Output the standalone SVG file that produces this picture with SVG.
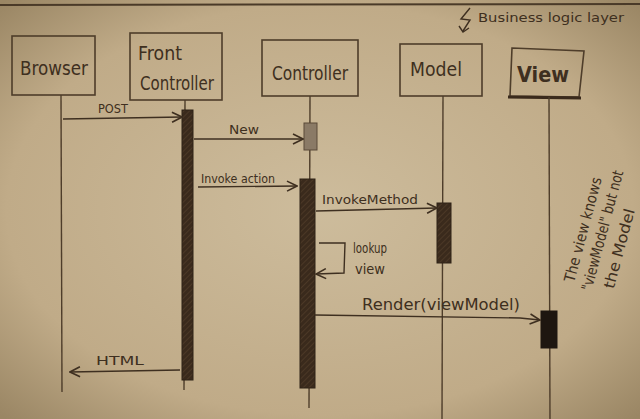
<svg xmlns="http://www.w3.org/2000/svg" width="640" height="419" viewBox="0 0 640 419">
<defs>
<radialGradient id="paper" cx="50%" cy="50%" r="70%">
<stop offset="0" stop-color="#cdbc9c"/>
<stop offset="0.7" stop-color="#c0ab88"/>
<stop offset="1" stop-color="#9a8664"/>
</radialGradient>
<marker id="arr" viewBox="0 0 12 12" refX="11" refY="6" markerWidth="12" markerHeight="12" markerUnits="userSpaceOnUse" orient="auto">
<path d="M1,1 L11,6 L1,11" fill="none" stroke="#3e2f20" stroke-width="1.6"/>
</marker>
<pattern id="hatch" width="4" height="4" patternUnits="userSpaceOnUse" patternTransform="rotate(45)">
<rect width="4" height="4" fill="#3a2a1c"/>
<line x1="0" y1="0" x2="0" y2="4" stroke="#5c4630" stroke-width="1"/>
</pattern>
</defs>
<style>
.box{fill:none;stroke:#4e3d2a;stroke-width:1.6}
.life{stroke:#4e3d2a;stroke-width:1.4;fill:none}
.msg{stroke:#3e2f20;stroke-width:1.4;fill:none;marker-end:url(#arr)}
.bar{fill:url(#hatch);stroke:#2e2216;stroke-width:1}
.lbl{font-family:"DejaVu Sans",sans-serif;fill:#3e2f20}
.big{font-size:19px}
.sm{font-size:12px}
</style>
<rect width="640" height="419" fill="url(#paper)"/>
<line x1="0" y1="5" x2="640" y2="4" stroke="#4a3a28" stroke-width="2"/>

<g id="browser">
<rect class="box" x="12" y="36" width="83" height="59"/>
<text class="lbl big" x="20" y="75" textLength="68" lengthAdjust="spacingAndGlyphs">Browser</text>
<line class="life" x1="61" y1="95" x2="62" y2="392"/>
</g>
<g id="frontcontroller">
<rect class="box" x="130" y="33" width="92" height="67"/>
<text class="lbl big" x="138" y="60" textLength="44" lengthAdjust="spacingAndGlyphs">Front</text>
<text class="lbl big" x="140" y="90" textLength="74" lengthAdjust="spacingAndGlyphs">Controller</text>
<line class="life" x1="185" y1="100" x2="184" y2="390"/>
<rect class="bar" x="182" y="110" width="11" height="270"/>
</g>
<g id="controller">
<rect class="box" x="262" y="40" width="96" height="56"/>
<text class="lbl big" x="272" y="80" textLength="76" lengthAdjust="spacingAndGlyphs">Controller</text>
<line class="life" x1="310" y1="96" x2="309" y2="408"/>
<rect x="304" y="123" width="13" height="27" fill="#8a7a66" stroke="#5a4a38" stroke-width="1"/>
<rect class="bar" x="300" y="179" width="15" height="209"/>
</g>
<g id="model">
<rect class="box" x="400" y="44" width="82" height="52"/>
<text class="lbl big" x="410" y="76" textLength="52" lengthAdjust="spacingAndGlyphs">Model</text>
<line class="life" x1="443" y1="96" x2="442" y2="419"/>
<rect class="bar" x="437" y="203" width="14" height="60"/>
</g>
<g id="view">
<path class="box" d="M512,48 L584,51 L579,97 L510,96 Z"/>
<line x1="508" y1="97" x2="581" y2="98" stroke="#3a2a1c" stroke-width="3"/>
<text class="lbl" x="517" y="82" font-size="22" font-weight="bold" textLength="52" lengthAdjust="spacingAndGlyphs">View</text>
<line class="life" x1="549" y1="97" x2="550" y2="419"/>
<rect x="541" y="311" width="16" height="37" fill="#1e1610" stroke="#1e1610" stroke-width="1"/>
</g>

<g id="connectors">
<line class="msg" x1="63" y1="119" x2="182" y2="117"/>
<text class="lbl sm" x="98" y="113" textLength="30" lengthAdjust="spacingAndGlyphs">POST</text>
<line class="msg" x1="194" y1="139" x2="303" y2="139"/>
<text class="lbl sm" x="229" y="134" textLength="30" lengthAdjust="spacingAndGlyphs">New</text>
<line class="msg" x1="198" y1="187" x2="297" y2="186"/>
<text class="lbl sm" x="201" y="183" textLength="74" lengthAdjust="spacingAndGlyphs">Invoke action</text>
<line class="msg" x1="316" y1="211" x2="437" y2="208"/>
<text class="lbl sm" x="322" y="204" textLength="96" lengthAdjust="spacingAndGlyphs">InvokeMethod</text>
<path class="msg" d="M319,243 L345,243 L344,273 L316,274"/>
<text class="lbl" font-size="14" x="353" y="253" textLength="34" lengthAdjust="spacingAndGlyphs">lookup</text>
<text class="lbl" font-size="14" x="355" y="274" textLength="30" lengthAdjust="spacingAndGlyphs">view</text>
<path class="msg" d="M315,315 L520,318 L540,320"/>
<text class="lbl" x="362" y="310" font-size="15" textLength="158" lengthAdjust="spacingAndGlyphs">Render(viewModel)</text>
<line class="msg" x1="180" y1="370" x2="70" y2="372"/>
<text class="lbl sm" x="96" y="365" textLength="48" lengthAdjust="spacingAndGlyphs">HTML</text>
<path d="M470,8 L461,19 L470,20 L463,31" fill="none" stroke="#3e2f20" stroke-width="1.4"/>
<path d="M459,26 L463,32 L469,28" fill="none" stroke="#3e2f20" stroke-width="1.4"/>
</g>
<text class="lbl" x="478" y="22" font-size="13" textLength="146" lengthAdjust="spacingAndGlyphs">Business logic layer</text>
<g class="lbl" font-size="15" transform="translate(574,283) rotate(-75)">
<text x="0" y="0" textLength="108" lengthAdjust="spacingAndGlyphs">The view knows</text>
<text x="-4" y="19" textLength="124" lengthAdjust="spacingAndGlyphs">"viewModel" but not</text>
<text x="4" y="40" textLength="82" lengthAdjust="spacingAndGlyphs">the Model</text>
</g>
</svg>
